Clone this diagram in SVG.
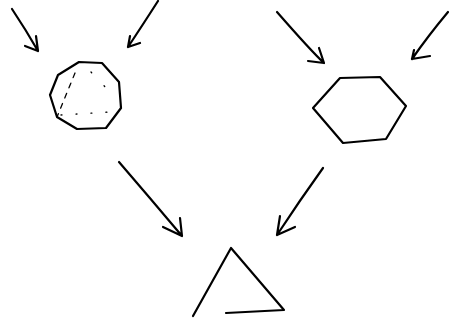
<svg xmlns="http://www.w3.org/2000/svg" width="449" height="324" viewBox="0 0 449 324">
<style>
.s{fill:none;stroke:#000;stroke-width:2.2;stroke-linecap:round;stroke-linejoin:round}
.d{fill:none;stroke:#000;stroke-width:1.3;stroke-linecap:round}
</style>
<rect width="449" height="324" fill="#fff"/>
<g id="connectors">
<path class="s" d="M12,9 Q26,30 38,51 M25,46 L38,51 L36,36"/>
<path class="s" d="M158,1 Q142,26 128,47 M140,43 L128,47 L130,36"/>
<path class="s" d="M277,12 Q312,52 324,63 M308,61 L324,63 L319,48"/>
<path class="s" d="M448,12 Q428,36 412,59 M430,56 L412,59 L414,50"/>
<path class="s" d="M119,162 Q150,198 182,236 M163,227 L182,236 L180,218"/>
<path class="s" d="M323,168 Q300,200 277,235 M295,227 L277,235 L280,216"/>
</g>
<g id="node-octagon">
<path class="s" d="M79,62 L102,63 L119,82 L121,108 L106,128 L77,129 L57,117 L50,95 L58,75 Z"/>
<path class="d" stroke-dasharray="5,6" d="M75,73 L57,117"/>
<path class="d" stroke-dasharray="1,14" d="M61,115 L110,112"/>
<path class="d" stroke-dasharray="1,18" d="M91,72 L108,90 L116,99"/>
</g>
<g id="node-hexagon">
<path class="s" d="M340,78 L380,77 L406,106 L386,139 L343,143 L313,108 Z"/>
</g>
<g id="node-triangle">
<path class="s" d="M193,316 L231,248 L284,310 L226,313"/>
</g>
</svg>
